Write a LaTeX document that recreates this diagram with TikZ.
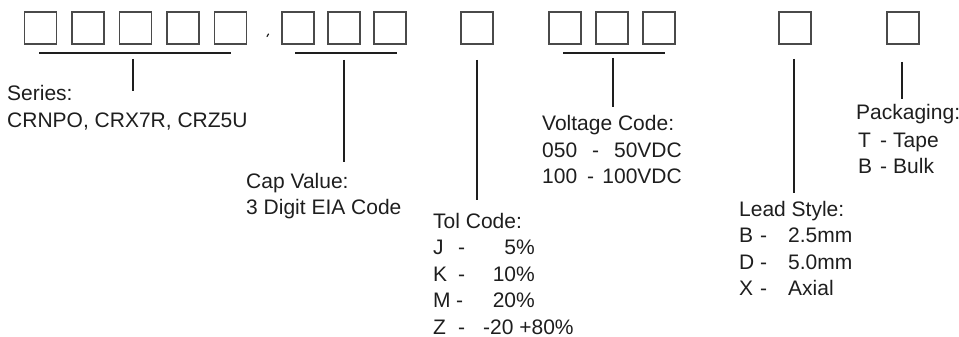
\documentclass[tikz,border=0pt]{standalone}
\usepackage{fontspec}
\setmainfont{Liberation Sans}
\definecolor{inkblack}{HTML}{1E1E1E}
\definecolor{boxgray}{HTML}{4A4A4A}
\begin{document}
\begin{tikzpicture}[x=1pt,y=-1pt,
  digit/.style={draw=boxgray, line width=1.4pt, minimum width=32pt, minimum height=32pt, inner sep=0pt},
  bar/.style={draw=inkblack, line width=2.8pt},
  lbl/.style={anchor=base west, inner sep=0pt, text=inkblack, font=\fontsize{21pt}{26pt}\selectfont},
  lblr/.style={lbl, anchor=base east}]
\useasboundingbox (0,0) rectangle (959,337);

% part-number digit boxes
\node[digit] (b1)  at (40.5,28) {};
\node[digit] (b2)  at (88,28) {};
\node[digit] (b3)  at (135.5,28) {};
\node[digit] (b4)  at (183,28) {};
\node[digit] (b5)  at (230.5,28) {};
\node[digit] (b6)  at (298,28) {};
\node[digit] (b7)  at (344,28) {};
\node[digit] (b8)  at (390,28) {};
\node[digit] (b9)  at (477,28) {};
\node[digit] (b10) at (565,28) {};
\node[digit] (b11) at (612,28) {};
\node[digit] (b12) at (659,28) {};
\node[digit] (b13) at (795,28) {};
\node[digit] (b14) at (903,28) {};

% small decimal mark between series and value fields
\draw[inkblack, line width=1.2pt, line cap=round] (267,36.5) -- (268.5,34);

% group brackets
\coordinate (sL) at (39,53);  \coordinate (sR) at (231,53);
\coordinate (cL) at (295,53); \coordinate (cR) at (397,53);
\coordinate (vL) at (563,53); \coordinate (vR) at (665,53);
\draw[bar] (sL) -- (sR);
\draw[bar] (cL) -- (cR);
\draw[bar] (vL) -- (vR);

% leader lines down to the field descriptions
\coordinate (sT) at (133,59);  \coordinate (sB) at (133,91);
\coordinate (cT) at (344,60);  \coordinate (cB) at (344,162);
\coordinate (tT) at (477,60);  \coordinate (tB) at (477,200);
\coordinate (vT) at (613,58);  \coordinate (vB) at (613,107);
\coordinate (lT) at (794,59);  \coordinate (lB) at (794,193);
\coordinate (pT) at (902,62);  \coordinate (pB) at (902,99);
\draw[bar] (sT) -- (sB);
\draw[bar] (cT) -- (cB);
\draw[bar] (tT) -- (tB);
\draw[bar] (vT) -- (vB);
\draw[bar] (lT) -- (lB);
\draw[bar] (pT) -- (pB);

% series
\node[lbl] (ser1) at (7,100) {Series:};
\node[lbl] (ser2) at (7,127) {CRNPO, CRX7R, CRZ5U};

% capacitance value
\node[lbl] (cap1) at (246,188) {Cap Value:};
\node[lbl] (cap2) at (246,214) {3 Digit EIA Code};

% tolerance
\node[lbl] (tol) at (433,228) {Tol Code:};
\node[lbl] (tJ) at (433,254.5) {J};
\node[lbl] (tJd) at (458,254.5) {-};
\node[lblr] (tJv) at (535,254.5) {5\%};
\node[lbl] (tK) at (433,281) {K};
\node[lbl] (tKd) at (458,281) {-};
\node[lblr] (tKv) at (535,281) {10\%};
\node[lbl] (tM) at (433,307.5) {M};
\node[lbl] (tMd) at (456,307.5) {-};
\node[lblr] (tMv) at (535,307.5) {20\%};
\node[lbl] (tZ) at (433,334) {Z};
\node[lbl] (tZd) at (458,334) {-};
\node[lbl] (tZv) at (483,334) {-20 +80\%};

% voltage
\node[lbl] (volt) at (542,130) {Voltage Code:};
\node[lbl] (v1) at (542,157) {050};
\node[lbl] (v1d) at (592,157) {-};
\node[lblr] (v1v) at (682,157) {50VDC};
\node[lbl] (v2) at (542,183.5) {100};
\node[lbl] (v2d) at (587,183.5) {-};
\node[lblr] (v2v) at (682,183.5) {100VDC};

% lead style
\node[lbl] (lead) at (739,216) {Lead Style:};
\node[lbl] (lB1) at (739,242.5) {B};
\node[lbl] (lB1d) at (760,242.5) {-};
\node[lbl] (lB1v) at (788,242.5) {2.5mm};
\node[lbl] (lD) at (739,269) {D};
\node[lbl] (lDd) at (760,269) {-};
\node[lbl] (lDv) at (788,269) {5.0mm};
\node[lbl] (lX) at (739,295.5) {X};
\node[lbl] (lXd) at (760,295.5) {-};
\node[lbl] (lXv) at (788,295.5) {Axial};

% packaging
\node[lbl] (pack) at (856,120) {Packaging:};
\node[lbl] (pT1) at (858,147) {T};
\node[lbl] (pT1d) at (880,147) {-};
\node[lbl] (pT1v) at (893,147) {Tape};
\node[lbl] (pB1) at (858,173) {B};
\node[lbl] (pB1d) at (880,173) {-};
\node[lbl] (pB1v) at (893,173) {Bulk};
\end{tikzpicture}
\end{document}
